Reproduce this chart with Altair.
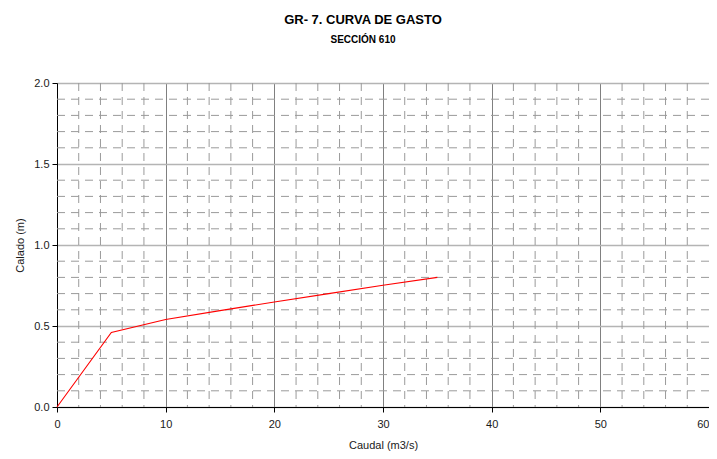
import altair as alt
import pandas as pd

# Data
caudal = [0, 5, 10, 15, 20, 25, 30, 35]
calado = [0.0, 0.46, 0.54, 0.595, 0.648, 0.70, 0.752, 0.80]
x_major = [0, 10, 20, 30, 40, 50, 60]
y_major = [0.0, 0.5, 1.0, 1.5, 2.0]
x_minor = [v for v in range(2, 60, 2) if v % 10 != 0]
y_minor = [round(i * 0.1, 1) for i in range(1, 20) if i % 5 != 0]
titulo = ["GR- 7. CURVA DE GASTO"]
subtitulo = ["SECCIÓN 610"]

FONT = "Liberation Sans, Arial, sans-serif"

curve = pd.DataFrame({"Caudal": caudal, "Calado": calado})
xs = alt.Scale(domain=[0, 60], nice=False, zero=True)
ys = alt.Scale(domain=[0, 2], nice=False, zero=True)

xaxis = alt.Axis(title="Caudal (m3/s)", values=x_major, format="d",
                 grid=True, gridColor="#808080", gridWidth=1,
                 titlePadding=10, labelPadding=6, labelFlush=False,
                 labelAlign={"condition": {"test": "datum.value >= 60", "value": "right"},
                             "value": "center"})
yaxis = alt.Axis(title="Calado (m)", values=y_major, format=".1f",
                 grid=True, gridColor="#b4b4b4", gridWidth=1.5,
                 titlePadding=8, labelPadding=3, labelFlush=False)

hminor = alt.Chart(pd.DataFrame({"v": y_minor})).mark_rule(
    color="#9a9a9a", strokeWidth=1, strokeDash=[8, 6]
).encode(y=alt.Y("v:Q", scale=ys, axis=yaxis, title="Calado (m)"))

vminor = alt.Chart(pd.DataFrame({"v": x_minor})).mark_rule(
    color="#9a9a9a", strokeWidth=1, strokeDash=[8, 6]
).encode(x=alt.X("v:Q", scale=xs, axis=xaxis, title="Caudal (m3/s)"))

line = alt.Chart(curve).mark_line(color="#ff0000", strokeWidth=1.1).encode(
    x=alt.X("Caudal:Q", scale=xs, axis=xaxis, title="Caudal (m3/s)"),
    y=alt.Y("Calado:Q", scale=ys, axis=yaxis, title="Calado (m)"),
)

t1 = alt.Chart(pd.DataFrame({"t": titulo})).mark_text(
    font=FONT, fontSize=13, fontWeight="bold", color="#000000",
    align="center", baseline="alphabetic"
).encode(text="t:N", x=alt.value(306), y=alt.value(-59))

t2 = alt.Chart(pd.DataFrame({"t": subtitulo})).mark_text(
    font=FONT, fontSize=10, fontWeight="bold", color="#000000",
    align="center", baseline="alphabetic"
).encode(text="t:N", x=alt.value(306), y=alt.value(-40))

chart = alt.layer(hminor, vminor, line, t1, t2).properties(
    width=652, height=324,
    autosize=alt.AutoSizeParams(type="none"),
    padding={"left": 49, "top": 75, "right": 0, "bottom": 44},
).configure_view(strokeWidth=0).configure_axis(
    domainColor="#000000", domainWidth=1, tickColor="#000000", tickSize=5,
    labelFont=FONT, labelFontSize=11, labelColor="#1a1a1a",
    titleFont=FONT, titleFontSize=11, titleFontWeight="normal", titleColor="#1a1a1a",
)

chart.save("out.html", embed_options={"renderer": "svg", "actions": False})
